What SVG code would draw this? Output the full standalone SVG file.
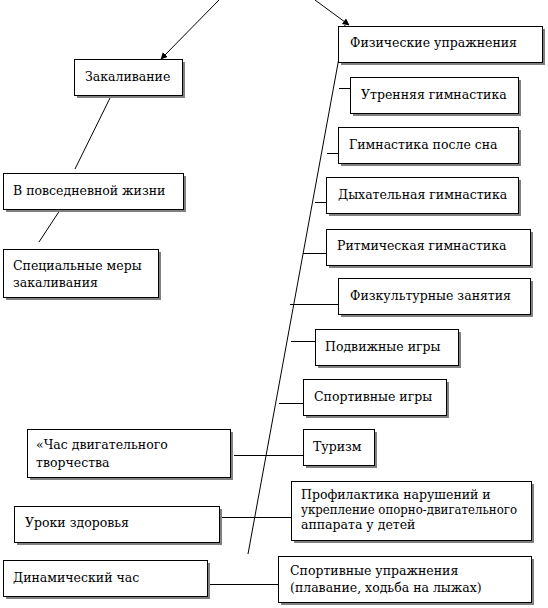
<svg xmlns="http://www.w3.org/2000/svg" width="548" height="608" viewBox="0 0 548 608">
<style>
.sh{fill:#808080}
.bx{fill:#fff;stroke:#000;stroke-width:1}
.t{font-family:"DejaVu Serif","Liberation Serif",serif;font-size:12.5px;fill:#000}
.ln{stroke:#000;stroke-width:1;fill:none}
</style>
<defs>
<marker id="ah" viewBox="0 0 10 10" refX="9" refY="5" markerWidth="7" markerHeight="7" orient="auto" markerUnits="userSpaceOnUse">
<path d="M0,0 L10,5 L0,10 z" fill="#000"/>
</marker>
</defs>
<rect width="548" height="608" fill="#fff"/>
<g id="connectors">
<line class="ln" x1="219" y1="0" x2="161" y2="59" marker-end="url(#ah)"/>
<line class="ln" x1="315" y1="0" x2="349" y2="25" marker-end="url(#ah)"/>
<line class="ln" x1="110" y1="98" x2="75" y2="169"/>
<line class="ln" x1="62" y1="207" x2="39" y2="242"/>
<line class="ln" x1="345" y1="25" x2="248" y2="554"/>
<line class="ln" x1="339" y1="88.5" x2="350" y2="88.5"/>
<line class="ln" x1="327" y1="153.5" x2="338" y2="153.5"/>
<line class="ln" x1="315" y1="202.5" x2="326" y2="202.5"/>
<line class="ln" x1="303" y1="253.5" x2="326" y2="253.5"/>
<line class="ln" x1="290" y1="304.5" x2="338" y2="304.5"/>
<line class="ln" x1="291" y1="341.5" x2="315" y2="341.5"/>
<line class="ln" x1="279" y1="403.5" x2="303" y2="403.5"/>
<line class="ln" x1="234" y1="455.5" x2="303" y2="455.5"/>
<line class="ln" x1="222" y1="517.5" x2="291" y2="517.5"/>
<line class="ln" x1="210" y1="584.5" x2="278" y2="584.5"/>
</g>
<g id="n-zakalivanie">
<rect class="sh" x="77" y="62" width="108" height="36"/>
<rect class="bx" x="74.5" y="59.5" width="108" height="36"/>
<text class="t" x="85" y="81">Закаливание</text>
</g>
<g id="n-povsednevnoy">
<rect class="sh" x="6" y="176" width="180" height="36"/>
<rect class="bx" x="3.5" y="173.5" width="180" height="36"/>
<text class="t" x="13" y="195">В повседневной жизни</text>
</g>
<g id="n-specialnye">
<rect class="sh" x="6" y="252" width="155" height="48"/>
<rect class="bx" x="3.5" y="249.5" width="155" height="48"/>
<text class="t" x="13" y="270">Специальные меры</text>
<text class="t" x="13" y="287">закаливания</text>
</g>
<g id="n-fizicheskie">
<rect class="sh" x="341" y="29" width="204" height="36"/>
<rect class="bx" x="338.5" y="26.5" width="204" height="36"/>
<text class="t" x="350" y="47">Физические упражнения</text>
</g>
<g id="n-utrennyaya">
<rect class="sh" x="353" y="80" width="168" height="36"/>
<rect class="bx" x="350.5" y="77.5" width="168" height="36"/>
<text class="t" x="361" y="99">Утренняя гимнастика</text>
</g>
<g id="n-posle-sna">
<rect class="sh" x="341" y="130" width="180" height="36"/>
<rect class="bx" x="338.5" y="127.5" width="180" height="36"/>
<text class="t" x="349" y="149">Гимнастика после сна</text>
</g>
<g id="n-dyhatelnaya">
<rect class="sh" x="329" y="180" width="192" height="36"/>
<rect class="bx" x="326.5" y="177.5" width="192" height="36"/>
<text class="t" x="338" y="199">Дыхательная гимнастика</text>
</g>
<g id="n-ritmicheskaya">
<rect class="sh" x="329" y="232" width="204" height="36"/>
<rect class="bx" x="326.5" y="229.5" width="204" height="36"/>
<text class="t" x="337" y="250">Ритмическая гимнастика</text>
</g>
<g id="n-fizkultura">
<rect class="sh" x="341" y="281" width="192" height="36"/>
<rect class="bx" x="338.5" y="278.5" width="192" height="36"/>
<text class="t" x="350" y="300">Физкультурные занятия</text>
</g>
<g id="n-podvizhnye">
<rect class="sh" x="318" y="332" width="143" height="36"/>
<rect class="bx" x="315.5" y="329.5" width="143" height="36"/>
<text class="t" x="325" y="351">Подвижные игры</text>
</g>
<g id="n-sportivnye-igry">
<rect class="sh" x="306" y="382" width="143" height="36"/>
<rect class="bx" x="303.5" y="379.5" width="143" height="36"/>
<text class="t" x="314" y="401">Спортивные игры</text>
</g>
<g id="n-turizm">
<rect class="sh" x="306" y="432" width="71" height="36"/>
<rect class="bx" x="303.5" y="429.5" width="71" height="36"/>
<text class="t" x="313" y="451">Туризм</text>
</g>
<g id="n-profilaktika">
<rect class="sh" x="294" y="484" width="240" height="59"/>
<rect class="bx" x="291.5" y="481.5" width="240" height="59"/>
<text class="t" x="301" y="499">Профилактика нарушений и</text>
<text class="t" x="301" y="514" textLength="216" lengthAdjust="spacingAndGlyphs">укрепление опорно-двигательного</text>
<text class="t" x="301" y="529">аппарата у детей</text>
</g>
<g id="n-sport-uprazhneniya">
<rect class="sh" x="281" y="559" width="253" height="46"/>
<rect class="bx" x="278.5" y="556.5" width="253" height="46"/>
<text class="t" x="290" y="575">Спортивные упражнения</text>
<text class="t" x="290" y="592">(плавание, ходьба на лыжах)</text>
</g>
<g id="n-chas">
<rect class="sh" x="30" y="432" width="203" height="48"/>
<rect class="bx" x="27.5" y="429.5" width="203" height="48"/>
<text class="t" x="36" y="449">«Час двигательного</text>
<text class="t" x="36" y="467">творчества</text>
</g>
<g id="n-uroki">
<rect class="sh" x="17" y="509" width="205" height="36"/>
<rect class="bx" x="14.5" y="506.5" width="205" height="36"/>
<text class="t" x="25" y="527">Уроки здоровья</text>
</g>
<g id="n-dinamicheskiy">
<rect class="sh" x="6" y="563" width="204" height="36"/>
<rect class="bx" x="3.5" y="560.5" width="204" height="36"/>
<text class="t" x="13" y="582">Динамический час</text>
</g>
</svg>
